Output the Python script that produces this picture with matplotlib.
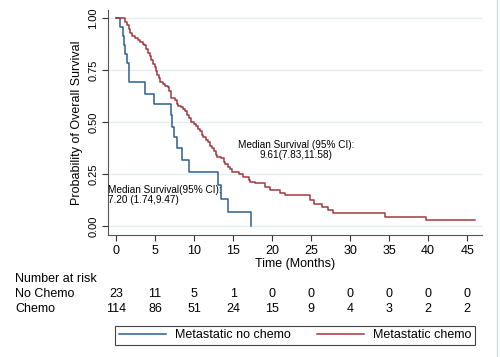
import matplotlib
matplotlib.use("Agg")
import matplotlib.pyplot as plt
import matplotlib.transforms as mtransforms
from matplotlib.lines import Line2D

plt.rcParams['font.family'] = ['Liberation Sans', 'DejaVu Sans']

# Kaplan-Meier steps
t_nochemo = [0, 0.55, 0.85, 1.0, 1.2, 1.4, 1.6, 1.65, 3.7, 4.85, 7.0, 7.2, 7.45, 7.8,
             8.45, 9.4, 13.1, 13.4, 14.4, 17.3]
s_nochemo = [1.0, 0.957, 0.913, 0.87, 0.826, 0.783, 0.739, 0.69, 0.636, 0.586, 0.532,
             0.475, 0.428, 0.374, 0.317, 0.261, 0.199, 0.13, 0.065, 0.0]

t_chemo = [0, 1.2, 1.4, 1.6, 1.8, 2.0, 2.4, 2.8, 3.1, 3.4, 3.6, 3.9, 4.1, 4.3, 4.5, 4.8,
           5.0, 5.1, 5.3, 5.5, 5.6, 6.0, 6.3, 6.6, 6.8, 7.0, 7.1, 7.5, 7.8, 8.0, 8.3,
           8.6, 8.9, 9.1, 9.3, 9.6, 10.0, 10.3, 10.5, 10.8, 11.0, 11.2, 11.5, 11.8, 12.0,
           12.3, 12.5, 12.8, 13.0, 13.5, 13.8, 14.0, 14.3, 14.6, 14.9, 15.7, 16.3, 17.0,
           17.2, 17.8, 19.1, 19.7, 21.0, 21.7, 24.9, 25.4, 26.4, 27.2, 27.8, 34.5, 39.7, 46.0]
s_chemo = [1.0, 0.982, 0.965, 0.947, 0.93, 0.912, 0.904, 0.895, 0.886, 0.877, 0.868,
           0.851, 0.833, 0.816, 0.798, 0.781, 0.763, 0.746, 0.728, 0.711, 0.693, 0.684,
           0.675, 0.667, 0.649, 0.632, 0.614, 0.605, 0.588, 0.579, 0.570, 0.561, 0.553,
           0.535, 0.518, 0.500, 0.491, 0.482, 0.465, 0.456, 0.439, 0.430, 0.412, 0.404,
           0.386, 0.377, 0.360, 0.342, 0.333, 0.325, 0.307, 0.298, 0.281, 0.272, 0.258,
           0.250, 0.237, 0.222, 0.213, 0.205, 0.189, 0.173, 0.160, 0.148, 0.125, 0.106,
           0.090, 0.077, 0.061, 0.045, 0.029, 0.029]

risk_times = [0, 5, 10, 15, 20, 25, 30, 35, 40, 45]
risk_nochemo = [23, 11, 5, 1, 0, 0, 0, 0, 0, 0]
risk_chemo = [114, 86, 51, 24, 15, 9, 4, 3, 2, 2]

blue = '#2e5e8e'
red = '#a0393f'

fig = plt.figure(figsize=(5, 3.57), dpi=100)
ax = fig.add_axes([0.216, 0.342, 0.748, 0.630])

ax.step(t_nochemo, s_nochemo, where='post', color=blue, lw=1.1)
ax.step(t_chemo, s_chemo, where='post', color=red, lw=1.1)

ax.set_xlim(-1.03, 46.9)
ax.set_ylim(-0.0433, 1.0385)
ax.set_yticks([0, 0.25, 0.5, 0.75, 1.0])
ax.set_yticklabels(['0.00', '0.25', '0.50', '0.75', '1.00'], rotation=90, va='center', fontsize=8)
ax.set_xticks(risk_times)
ax.tick_params(axis='x', labelsize=9, length=4, color='#333333', pad=3)
ax.tick_params(axis='y', length=4, color='#333333', pad=3)
ax.grid(axis='y', color='#e2eef0', lw=1)
ax.set_axisbelow(True)
for side in ['top', 'right']:
    ax.spines[side].set_visible(False)
ax.spines['left'].set_color('#555555')
ax.spines['bottom'].set_color('#555555')
ax.set_xlabel('Time (Months)', fontsize=9, labelpad=1)
ax.set_ylabel('Probability of Overall Survival', fontsize=9, labelpad=4)

ax.text(23.1, 0.365, 'Median Survival (95% CI):\n9.61(7.83,11.58)', ha='center', va='center',
        fontsize=7.2, multialignment='center', linespacing=1.0)
ax.text(-1.0, 0.148, 'Median Survival(95% CI):\n7.20 (1.74,9.47)', ha='left', va='center',
        fontsize=7.2, linespacing=1.0)

# number at risk table
tr = mtransforms.blended_transform_factory(ax.transData, fig.transFigure)
fig.text(15 / 500, 1 - 279 / 357, 'Number at risk', fontsize=9, va='center')
fig.text(15 / 500, 1 - 294 / 357, 'No Chemo', fontsize=9, va='center')
fig.text(15 / 500, 1 - 309 / 357, 'Chemo', fontsize=9, va='center')
for t, a, b in zip(risk_times, risk_nochemo, risk_chemo):
    ax.text(t, 1 - 294 / 357, str(a), transform=tr, ha='center', va='center', fontsize=9)
    ax.text(t, 1 - 309 / 357, str(b), transform=tr, ha='center', va='center', fontsize=9)

handles = [Line2D([], [], color=blue, lw=1.1), Line2D([], [], color=red, lw=1.1)]
leg = fig.legend(handles, ['Metastatic no chemo', 'Metastatic chemo'], ncol=2,
                 loc='center', bbox_to_anchor=(295 / 500, 1 - 335.5 / 357), fontsize=9,
                 fancybox=False, framealpha=1, edgecolor='#444444', handlelength=3.8,
                 handletextpad=0.7, columnspacing=2.1, borderpad=0.25)
leg.get_frame().set_linewidth(0.8)

fig.add_artist(Line2D([0.994, 0.994], [0, 1], transform=fig.transFigure, color='#d0dde0', lw=1))

fig.savefig('out.png', dpi=100)
